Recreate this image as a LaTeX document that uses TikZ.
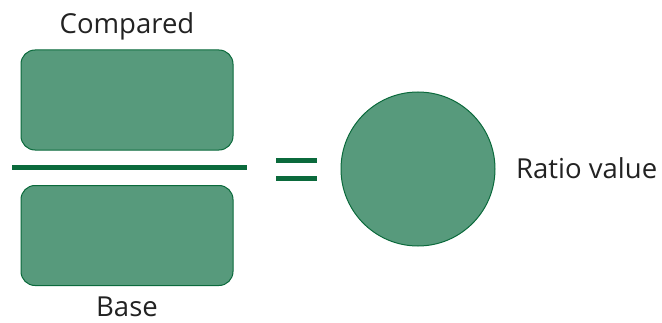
\documentclass[tikz,border=0pt]{standalone}
\usepackage{fontspec}
\setmainfont{Open Sans}
\usepackage{tikz}
\definecolor{ratiofill}{HTML}{579A7C}
\definecolor{ratiodark}{HTML}{0B6A3C}
\definecolor{ratiotext}{HTML}{222222}
\tikzset{
    every node/.style={text=ratiotext, inner sep=0pt, font=\fontsize{27.5}{32}\selectfont}
}
\tikzset{
    partbox/.style={rectangle, rounded corners=14pt, fill=ratiofill, draw=ratiodark,
    	line width=1pt, minimum width=212pt, minimum height=100pt},
    valuedot/.style={circle, fill=ratiofill, draw=ratiodark, line width=1pt,
    	minimum size=154pt},
    bar/.style={draw=ratiodark, line width=5pt}
}

\begin{document}
\begin{tikzpicture}[x=1pt,y=1pt]
  \useasboundingbox (0,0) rectangle (662,322);
  \node [partbox] (top) at (127,222) {};
  \node [partbox] (bottom) at (127,86.5) {};
  \node [valuedot] (ratio) at (418,153) {};
  \node [anchor=base] (compared) at (127,288) {Compared};
  \node [anchor=base] (base) at (127,6) {Base};
  \node [anchor=base west] (value) at (516,144) {Ratio value};
  \coordinate (barl) at (12,154.5); \coordinate (barr) at (247,154.5);
  \coordinate (eqa) at (276,161.5); \coordinate (eqb) at (317,161.5);
  \coordinate (eqc) at (276,143.5); \coordinate (eqd) at (317,143.5);
  \draw [bar] (barl) -- (barr);
  \draw [bar] (eqa) -- (eqb); \draw [bar] (eqc) -- (eqd);
\end{tikzpicture}
\end{document}
